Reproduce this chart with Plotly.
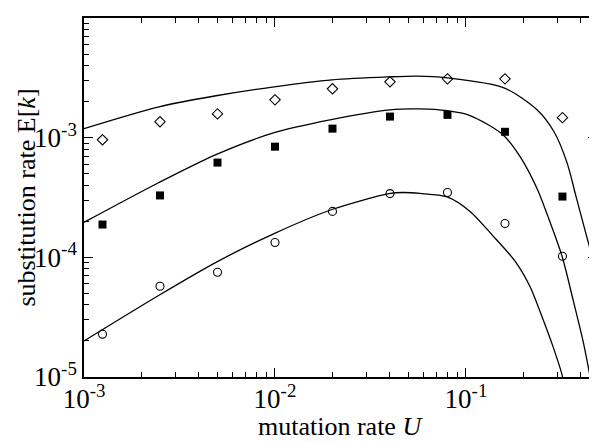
import plotly.graph_objects as go

# ---- data ----
U_points = [0.00125, 0.0025, 0.005, 0.01, 0.02, 0.04, 0.08, 0.16, 0.32]
E_diamond = [9.6e-4, 1.36e-3, 1.58e-3, 2.07e-3, 2.56e-3, 2.93e-3, 3.1e-3, 3.1e-3, 1.47e-3]
E_square = [1.88e-4, 3.29e-4, 6.19e-4, 8.41e-4, 1.19e-3, 1.50e-3, 1.55e-3, 1.12e-3, 3.22e-4]
E_circle = [2.28e-5, 5.73e-5, 7.5e-5, 1.33e-4, 2.42e-4, 3.41e-4, 3.48e-4, 1.92e-4, 1.02e-4]

curve_top_U = [0.001, 0.00247, 0.00491, 0.0099, 0.0199, 0.0395, 0.0553, 0.0797, 0.158,
               0.2355, 0.289, 0.338, 0.377, 0.462, 0.504]
curve_top_E = [1.19e-3, 1.81e-3, 2.24e-3, 2.66e-3, 3.04e-3, 3.22e-3, 3.27e-3, 3.16e-3, 2.61e-3,
               1.71e-3, 1.12e-3, 6.19e-4, 3.22e-4, 9.62e-5, 6.1e-5]

curve_mid_U = [0.001, 0.00247, 0.00491, 0.0099, 0.0194, 0.040, 0.0574, 0.0797, 0.105, 0.156,
               0.192, 0.2355, 0.2685, 0.3185, 0.363, 0.410, 0.446, 0.462]
curve_mid_E = [1.96e-4, 4.22e-4, 7.22e-4, 1.10e-3, 1.41e-3, 1.71e-3, 1.74e-3, 1.68e-3, 1.53e-3, 1.06e-3,
               6.95e-4, 3.76e-4, 2.20e-4, 1.02e-4, 4.47e-5, 2.0e-5, 1.02e-5, 7.6e-6]

curve_low_U = [0.001, 0.00247, 0.00491, 0.0099, 0.01986, 0.0395, 0.0468, 0.0574, 0.0797, 0.105,
               0.138, 0.181, 0.216, 0.253, 0.285, 0.3185, 0.33]
curve_low_E = [2.0e-5, 4.82e-5, 9.08e-5, 1.58e-4, 2.51e-4, 3.41e-4, 3.48e-4, 3.42e-4, 3.20e-4, 2.42e-4,
               1.52e-4, 9.26e-5, 5.74e-5, 3.04e-5, 1.81e-5, 1.04e-5, 7.6e-6]

x_major = [1e-3, 1e-2, 1e-1]
x_major_text = ["10<sup>-3</sup>", "10<sup>-2</sup>", "10<sup>-1</sup>"]
y_major = [1e-5, 1e-4, 1e-3, 1e-2]
y_major_text = ["10<sup>-5</sup>", "10<sup>-4</sup>", "10<sup>-3</sup>", "10<sup>-2</sup>"]

x_minor = [m * 10.0 ** d for d in (-3, -2, -1) for m in range(2, 10)]
y_minor = [m * 10.0 ** d for d in (-5, -4, -3) for m in range(2, 10)]

FONT = "Liberation Serif, Times New Roman, serif"

fig = go.Figure()
for cu, ce in [(curve_top_U, curve_top_E), (curve_mid_U, curve_mid_E), (curve_low_U, curve_low_E)]:
    fig.add_trace(go.Scatter(x=cu, y=ce, mode="lines",
                             line=dict(color="black", width=1.3, shape="spline", smoothing=0.8),
                             showlegend=False, hoverinfo="skip"))

fig.add_trace(go.Scatter(x=U_points, y=E_diamond, mode="markers",
                         marker=dict(symbol="diamond-open", size=8, color="black", line=dict(width=1.1)),
                         showlegend=False))
fig.add_trace(go.Scatter(x=U_points, y=E_square, mode="markers",
                         marker=dict(symbol="square", size=8, color="black"),
                         showlegend=False))
fig.add_trace(go.Scatter(x=U_points, y=E_circle, mode="markers",
                         marker=dict(symbol="circle-open", size=8, color="black", line=dict(width=1.1)),
                         showlegend=False))

axis_common = dict(
    showgrid=False, zeroline=False, showline=True, linecolor="black", linewidth=1.5,
    mirror="ticks", ticks="inside", ticklen=9, tickwidth=1, tickcolor="black",
    tickfont=dict(family=FONT, size=27, color="black"),
    tickmode="array", automargin=False,
)

fig.update_xaxes(type="log", range=[-3, -0.314], tickvals=x_major, ticktext=x_major_text,
                 ticklabelstandoff=-3,
                 minor=dict(tickmode="array", tickvals=x_minor, ticks="inside", ticklen=5,
                            tickwidth=1, tickcolor="black", showgrid=False),
                 **axis_common)
fig.update_yaxes(type="log", range=[-5, -2], tickvals=y_major, ticktext=y_major_text,
                 minor=dict(tickmode="array", tickvals=y_minor, ticks="inside", ticklen=5,
                            tickwidth=1, tickcolor="black", showgrid=False),
                 **axis_common)

fig.add_annotation(text="mutation rate <i>U</i>", xref="paper", yref="paper",
                   x=0.5, y=-0.137, xanchor="center", yanchor="middle", showarrow=False,
                   font=dict(family=FONT, size=26, color="black"))
fig.add_annotation(text="substitution rate E[<i>k</i>]", xref="paper", yref="paper",
                   x=-0.113, y=0.5, xanchor="center", yanchor="middle", textangle=-90,
                   showarrow=False, font=dict(family=FONT, size=26, color="black"))

# page body has an 8px default margin, so the figure is 8px smaller than the window
fig.update_layout(width=589, height=434, margin=dict(l=76, r=0, t=10, b=65),
                  plot_bgcolor="white", paper_bgcolor="white",
                  font=dict(family=FONT, color="black"))

fig.write_html("out.html", config={"displayModeBar": False})
